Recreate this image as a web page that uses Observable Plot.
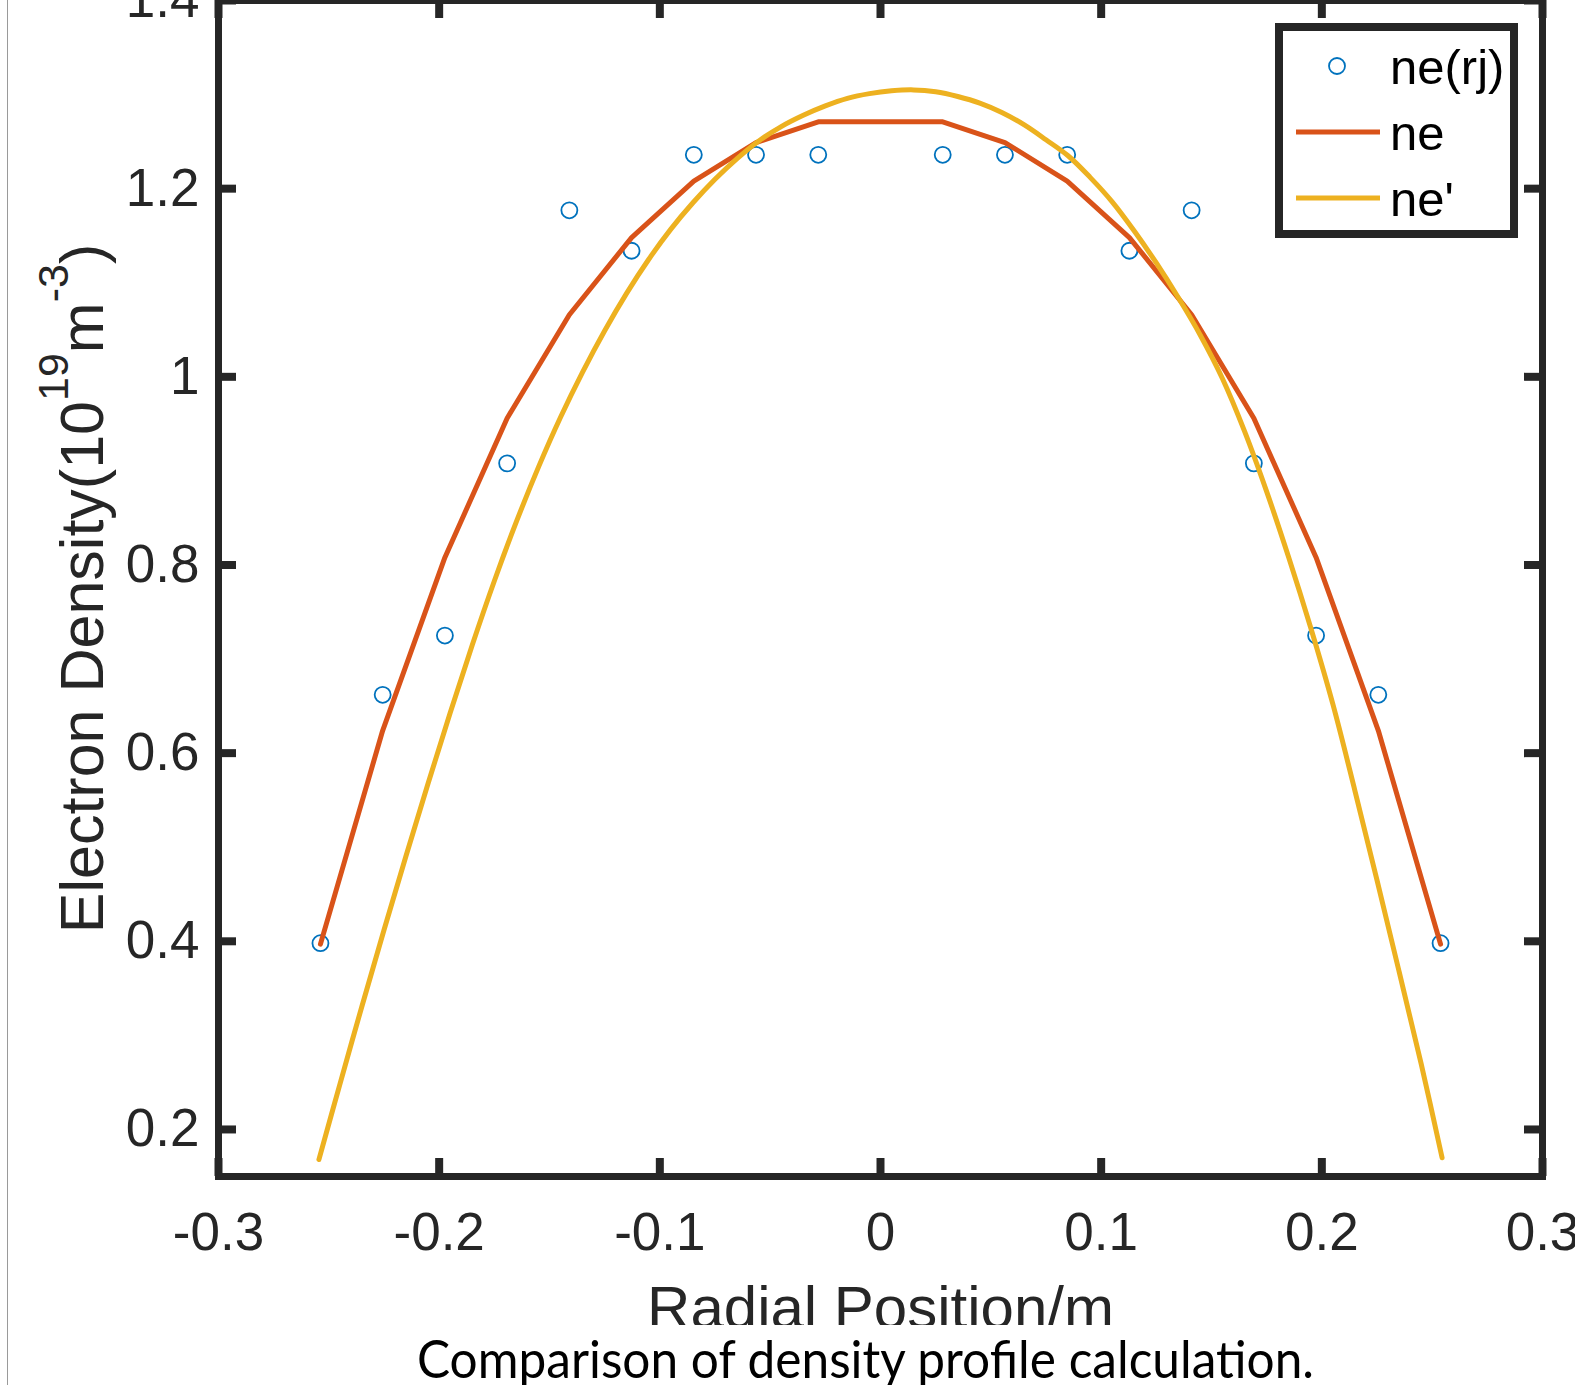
<!DOCTYPE html>
<html><head><meta charset="utf-8">
<script src="https://cdn.jsdelivr.net/npm/d3@7"></script>
<script src="https://cdn.jsdelivr.net/npm/@observablehq/plot@0.6"></script>
<style>
html,body{margin:0;padding:0;background:#fff;width:1575px;height:1385px;overflow:hidden;}
#wrap{position:relative;width:1575px;height:1385px;}
#chart{position:absolute;left:0;top:0;}
#cap{position:absolute;left:0;top:0;pointer-events:none;}
#edge{position:absolute;left:7px;top:0;width:1px;height:1385px;background:#9a9a9a;}
</style></head>
<body><div id="wrap"><div id="chart"></div><svg id="cap" width="1575" height="1385"></svg><div id="edge"></div></div>
<script>
// ---- data ----
const rj = [-0.2538,-0.2256,-0.1974,-0.1692,-0.141,-0.1128,-0.0846,-0.0564,-0.0282,0.0282,0.0564,0.0846,0.1128,0.141,0.1692,0.1974,0.2256,0.2538];
const neRj = [0.398,0.662,0.725,0.908,1.177,1.134,1.236,1.236,1.236,1.236,1.236,1.236,1.134,1.177,0.908,0.725,0.662,0.398];
const ne = [0.397,0.624,0.808,0.956,1.066,1.148,1.208,1.249,1.271,1.271,1.249,1.208,1.148,1.066,0.956,0.808,0.624,0.397];
const fitX = [-0.2545,-0.245,-0.235,-0.225,-0.215,-0.205,-0.195,-0.185,-0.175,-0.165,-0.155,-0.145,-0.135,-0.125,-0.115,-0.105,-0.095,-0.085,-0.075,-0.065,-0.055,-0.045,-0.035,-0.025,-0.015,-0.005,0.005,0.015,0.025,0.035,0.045,0.055,0.065,0.075,0.085,0.095,0.105,0.115,0.125,0.135,0.145,0.155,0.165,0.175,0.185,0.195,0.205,0.215,0.225,0.235,0.245,0.2545];
const neFit = [0.168,0.248,0.331,0.412,0.491,0.568,0.643,0.715,0.783,0.846,0.904,0.957,1.005,1.049,1.089,1.125,1.157,1.185,1.210,1.232,1.251,1.266,1.278,1.288,1.296,1.301,1.304,1.305,1.303,1.298,1.291,1.281,1.268,1.252,1.235,1.212,1.186,1.155,1.121,1.084,1.044,0.998,0.942,0.878,0.808,0.733,0.652,0.560,0.465,0.368,0.270,0.170];
const xTicks = [-0.3,-0.2,-0.1,0,0.1,0.2,0.3];
const xTickLabels = ["-0.3","-0.2","-0.1","0","0.1","0.2","0.3"];
const yTicks = [0.2,0.4,0.6,0.8,1,1.2,1.4];
const yTickLabels = ["0.2","0.4","0.6","0.8","1","1.2","1.4"];
const seriesNames = ["ne(rj)","ne","ne'"];
const seriesColors = ["#0072BD","#D95319","#EDB120"];
const xLabel = "Radial Position/m";
const yLabelParts = [["Electron Density(10",false],["19",true],["m",false],["-3",true],[")",false]];
const caption = "Comparison of density profile calculation.";

// ---- tables ----
const pts = rj.map((x,i)=>({x, y: neRj[i]}));
const neLine = rj.map((x,i)=>({x, y: ne[i]}));
const fitLine = fitX.map((x,i)=>({x, y: neFit[i]}));
const yLabel = yLabelParts.map(p=>p[0]).join("");

// ---- layout ----
const W=1575, H=1325, mL=218, mR=33, mT=0, bottomY=1176, mB=H-bottomY;
const pw=W-mL-mR, ph=H-mT-mB;
const ink="#262626";
const font="'Liberation Sans', Arial, Helvetica, sans-serif";
const tl=18;

const svg = Plot.plot({
  width:W, height:H, marginLeft:mL, marginRight:mR, marginTop:mT, marginBottom:mB,
  style:{fontFamily:font, background:"white", overflow:"hidden"},
  x:{domain:[-0.3,0.3]},
  y:{domain:[0.15,1.4]},
  marks:[
    Plot.dot(pts,{x:"x",y:"y",r:8,stroke:seriesColors[0],strokeWidth:1.8,fill:"none"}),
    Plot.line(neLine,{x:"x",y:"y",stroke:seriesColors[1],strokeWidth:5,strokeLinejoin:"round"}),
    Plot.line(fitLine,{x:"x",y:"y",stroke:seriesColors[2],strokeWidth:5,curve:"catmull-rom"}),
    Plot.tickX(xTicks,{x:d=>d,stroke:ink,strokeWidth:8,insetTop:ph-tl}),
    Plot.tickX(xTicks,{x:d=>d,stroke:ink,strokeWidth:8,insetBottom:ph-tl}),
    Plot.tickY(yTicks,{y:d=>d,stroke:ink,strokeWidth:8,insetRight:pw-tl}),
    Plot.tickY(yTicks,{y:d=>d,stroke:ink,strokeWidth:8,insetLeft:pw-tl}),
    Plot.frame({stroke:ink,strokeWidth:7}),
    Plot.axisX(xTicks,{tickSize:0,tickPadding:36,fontSize:53,fill:ink,label:null,tickFormat:d=>xTickLabels[xTicks.indexOf(d)]}),
    Plot.axisY(yTicks,{tickSize:0,tickPadding:19,fontSize:53,fill:ink,label:null,tickFormat:d=>yTickLabels[yTicks.indexOf(d)]}),
    Plot.text([xLabel],{frameAnchor:"bottom",dy:151,text:d=>d,fontSize:60,fill:ink}),
    Plot.text([yLabel],{frameAnchor:"left",dx:-135,rotate:-90,text:d=>d,fontSize:61,fill:ink})
  ]
});
document.getElementById("chart").appendChild(svg);

// superscripts in y label
svg.querySelectorAll("text").forEach(t=>{
  if (t.textContent === yLabel) {
    while (t.firstChild) t.removeChild(t.firstChild);
    const sh = 35;
    let raised = false;
    yLabelParts.forEach(([s,sup])=>{
      const ts = document.createElementNS("http://www.w3.org/2000/svg","tspan");
      ts.textContent = s;
      if (sup && !raised) { ts.setAttribute("dy", -sh); raised = true; }
      else if (!sup && raised) { ts.setAttribute("dy", sh); raised = false; }
      if (sup) ts.setAttribute("font-size", 43);
      t.appendChild(ts);
    });
    t.setAttribute("text-anchor","start");
    const len = t.getComputedTextLength();
    t.setAttribute("x", -len/2);
  }
});

// legend
const lg = d3.select(svg).append("g").attr("text-anchor","start");
lg.append("rect").attr("x",1279).attr("y",27).attr("width",235).attr("height",207)
  .attr("fill","white").attr("stroke",ink).attr("stroke-width",8);
const rows=[66,132,198];
lg.append("circle").attr("cx",1337).attr("cy",rows[0]).attr("r",8)
  .attr("fill","none").attr("stroke",seriesColors[0]).attr("stroke-width",1.8);
[1,2].forEach(i=>{
  lg.append("line").attr("x1",1296).attr("x2",1380).attr("y1",rows[i]).attr("y2",rows[i])
    .attr("stroke",seriesColors[i]).attr("stroke-width",5);
});
seriesNames.forEach((s,i)=>{
  lg.append("text").attr("x",1390).attr("y",rows[i]+18).attr("font-size",49)
    .attr("text-anchor","start").attr("font-family",font).attr("fill","#000").text(s);
});

// caption
d3.select("#cap").append("text").attr("x",865.5).attr("y",1378)
  .attr("text-anchor","middle").attr("font-family","Lato, 'Open Sans', sans-serif")
  .attr("font-size",52).attr("fill","#000")
  .attr("textLength",897).attr("lengthAdjust","spacingAndGlyphs").text(caption);
</script>
</body></html>
